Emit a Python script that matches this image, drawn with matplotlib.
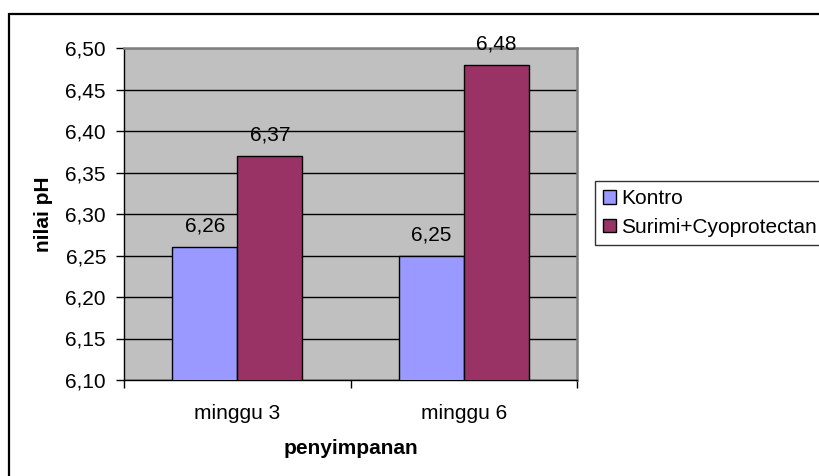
import matplotlib
matplotlib.use("Agg")
import matplotlib.pyplot as plt
from matplotlib.patches import Rectangle
import numpy as np

plt.rcParams['font.family'] = ['Liberation Sans', 'DejaVu Sans']

categories = ["minggu 3", "minggu 6"]
series_names = ["Kontro", "Surimi+Cyoprotectan"]
kontro = [6.26, 6.25]
surimi = [6.37, 6.48]
y_ticks = [6.10, 6.15, 6.20, 6.25, 6.30, 6.35, 6.40, 6.45, 6.50]
colors = ["#9999FF", "#993366"]

W, H = 819, 476
fig = plt.figure(figsize=(W / 100, H / 100), dpi=100)
fig.patch.set_facecolor("white")

# outer chart frame (left and top edges visible)
fig.patches.append(Rectangle((8.5 / W, -0.1), 1.2, (H - 13.5) / H + 0.1,
                             transform=fig.transFigure, fill=False,
                             edgecolor="black", linewidth=1.6, zorder=0))

ax = fig.add_axes([124 / W, (H - 380) / H, (577 - 124) / W, (380 - 48) / H])
ax.set_facecolor("#C0C0C0")

fs = 15
x = np.arange(len(categories))
bw = 0.287
b1 = ax.bar(x - bw / 2, kontro, bw, color=colors[0], edgecolor="black",
            linewidth=1, zorder=3, label=series_names[0])
b2 = ax.bar(x + bw / 2, surimi, bw, color=colors[1], edgecolor="black",
            linewidth=1, zorder=3, label=series_names[1])

for bars, vals in ((b1, kontro), (b2, surimi)):
    for rect, v in zip(bars, vals):
        ax.annotate(f"{v:.2f}".replace(".", ","),
                    (rect.get_x() + rect.get_width() / 2, v),
                    xytext=(0, 11), textcoords="offset points",
                    ha="center", va="baseline", fontsize=fs, zorder=4)

ax.set_ylim(6.10, 6.50)
ax.set_xlim(-0.5, len(categories) - 0.5)
ax.set_yticks(y_ticks)
ax.set_yticklabels([f"{t:.2f}".replace(".", ",") for t in y_ticks], fontsize=fs)
ax.yaxis.grid(True, color="black", linewidth=1)
ax.set_axisbelow(True)

ax.set_xticks(x)
ax.set_xticklabels(categories, fontsize=fs)
ax.set_xticks(np.arange(-0.5, len(categories)), minor=True)
ax.tick_params(axis="x", which="major", length=0, pad=17)
ax.tick_params(axis="x", which="minor", length=6, width=1, direction="out")
ax.tick_params(axis="y", length=6, width=1, direction="out", pad=7)

for s in ("top", "right"):
    ax.spines[s].set_color("#808080")
    ax.spines[s].set_linewidth(1.8)
for s in ("left", "bottom"):
    ax.spines[s].set_color("black")
    ax.spines[s].set_linewidth(1)

ax.set_ylabel("nilai pH", fontsize=fs, fontweight="bold", labelpad=9)
ax.set_xlabel("penyimpanan", fontsize=fs, fontweight="bold", labelpad=12)

leg = ax.legend(loc="upper left", bbox_to_anchor=(595 / W, 1 - 181 / H),
                bbox_transform=fig.transFigure, borderaxespad=0,
                fontsize=fs, frameon=True, fancybox=False, edgecolor="black",
                handlelength=0.62, handleheight=0.62, handletextpad=0.25,
                labelspacing=0.45, borderpad=0.4)
leg.get_frame().set_linewidth(1)
leg.get_frame().set_facecolor("white")

fig.savefig("out.png", dpi=100)
